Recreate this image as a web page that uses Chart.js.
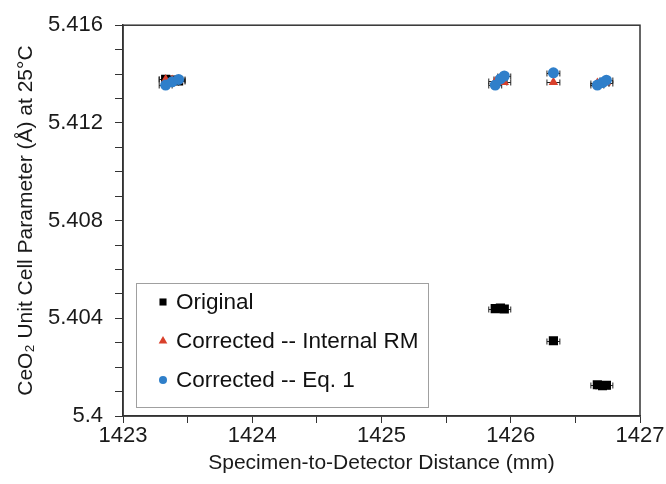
<!DOCTYPE html>
<html>
<head>
<meta charset="utf-8">
<script src="https://cdn.jsdelivr.net/npm/chart.js@4.4.1/dist/chart.umd.min.js"></script>
<style>
  html, body { margin: 0; padding: 0; background: #fff; }
  #wrap { width: 666px; height: 484px; }
</style>
</head>
<body>
<div id="wrap"><canvas id="chart" width="666" height="484"></canvas></div>
<script>
// distances (mm) for each measurement, same for all three series
const distances = [1423.33, 1423.38, 1423.43, 1425.88, 1425.92, 1425.95, 1426.33, 1426.67, 1426.71, 1426.74];
const originalValues = [5.41378, 5.41375, 5.41372, 5.40440, 5.40442, 5.40438, 5.40308, 5.40128, 5.40124, 5.40126];
const internalRMValues = [5.41378, 5.41376, 5.41374, 5.41370, 5.41368, 5.41366, 5.41366, 5.41363, 5.41364, 5.41365];
const eq1Values = [5.41355, 5.41368, 5.41378, 5.41355, 5.41380, 5.41392, 5.41405, 5.41355, 5.41365, 5.41375];
const distanceErr = 0.05;

const xTicks = [1423, 1424, 1425, 1426, 1427];
const yTicks = [5.4, 5.404, 5.408, 5.412, 5.416];

const seriesLabels = ['Original', 'Corrected -- Internal RM', 'Corrected -- Eq. 1'];
const seriesColors = ['#000000', '#d9402b', '#2f7fca'];
const seriesShapes = ['rect', 'triangle', 'circle'];
const seriesRadius = [6.5, 5.5, 5.5];
const legendRadius = [5, 5, 4];

function toPoints(ys) {
    return distances.map((x, i) => ({ x: x, y: ys[i] }));
}

const fontFamily = '"Liberation Sans", Arial, sans-serif';

// horizontal error bars drawn from the scales
const errorBars = {
    id: 'errorBars',
    beforeDatasetsDraw(chart) {
        const ctx = chart.ctx;
        const xs = chart.scales.x, ys = chart.scales.y;
        ctx.save();
        ctx.strokeStyle = '#222';
        ctx.lineWidth = 1;
        chart.data.datasets.forEach(ds => {
            ds.data.forEach(p => {
                const x0 = xs.getPixelForValue(p.x - distanceErr);
                const x1 = xs.getPixelForValue(p.x + distanceErr);
                const y = Math.round(ys.getPixelForValue(p.y)) + 0.5;
                ctx.beginPath();
                ctx.moveTo(x0, y); ctx.lineTo(x1, y);
                ctx.moveTo(x0, y - 3); ctx.lineTo(x0, y + 3);
                ctx.moveTo(x1, y - 3); ctx.lineTo(x1, y + 3);
                ctx.stroke();
            });
        });
        ctx.restore();
    }
};

// plot frame and inset legend
const frameAndLegend = {
    id: 'frameAndLegend',
    afterDraw(chart) {
        const ctx = chart.ctx;
        const a = chart.chartArea;
        ctx.save();
        ctx.strokeStyle = '#333';
        ctx.lineWidth = 1.5;
        ctx.strokeRect(a.left, a.top, a.right - a.left, a.bottom - a.top);

        // legend box
        const bx = 136.5, by = 283.5, bw = 292, bh = 124;
        ctx.fillStyle = '#fff';
        ctx.fillRect(bx, by, bw, bh);
        ctx.strokeStyle = '#a0a0a0';
        ctx.lineWidth = 1;
        ctx.strokeRect(bx, by, bw, bh);

        ctx.font = '22.5px ' + fontFamily;
        ctx.textBaseline = 'middle';
        ctx.textAlign = 'left';
        seriesLabels.forEach((label, i) => {
            const y = 302 + i * 39;
            ctx.fillStyle = seriesColors[i];
            ctx.strokeStyle = seriesColors[i];
            Chart.helpers.drawPoint(ctx, { pointStyle: seriesShapes[i], radius: legendRadius[i], borderWidth: 0 }, 163, y);
            ctx.fillStyle = '#111';
            ctx.fillText(label, 176, y + 1);
        });
        ctx.restore();
    }
};

const datasets = [originalValues, internalRMValues, eq1Values].map((vals, i) => ({
    label: seriesLabels[i],
    data: toPoints(vals),
    pointStyle: seriesShapes[i],
    pointRadius: seriesRadius[i],
    pointHoverRadius: seriesRadius[i],
    backgroundColor: seriesColors[i],
    borderColor: seriesColors[i],
    borderWidth: 0,
    showLine: false,
    order: 3 - i
}));

new Chart(document.getElementById('chart'), {
    type: 'scatter',
    data: { datasets: datasets },
    plugins: [errorBars, frameAndLegend],
    options: {
        responsive: false,
        animation: false,
        layout: { padding: { top: 21, right: 26, left: 0, bottom: 0 } },
        plugins: {
            legend: { display: false },
            tooltip: { enabled: false }
        },
        scales: {
            x: {
                type: 'linear',
                min: 1423,
                max: 1427,
                afterFit: s => { s.height = 68; },
                afterBuildTicks: s => {
                    s.ticks = [];
                    for (let v = 1423; v <= 1427.001; v += 0.5) s.ticks.push({ value: Math.round(v * 10) / 10 });
                },
                grid: { display: true, drawOnChartArea: false, drawTicks: true, tickLength: 7, color: '#333', lineWidth: 1 },
                border: { display: true, color: '#333', width: 1.5 },
                ticks: {
                    color: '#1a1a1a',
                    font: { size: 22, family: fontFamily },
                    padding: 0,
                    maxRotation: 0,
                    autoSkip: false,
                    callback: v => xTicks.includes(v) ? String(v) : ''
                },
                title: {
                    display: true,
                    text: 'Specimen-to-Detector Distance (mm)',
                    color: '#1a1a1a',
                    font: { size: 21, family: fontFamily },
                    padding: { top: 0, bottom: 8 }
                }
            },
            y: {
                type: 'linear',
                min: 5.4,
                max: 5.416,
                afterFit: s => { s.width = 123; },
                afterBuildTicks: s => {
                    s.ticks = [];
                    for (let k = 0; k <= 16; k++) s.ticks.push({ value: Math.round((5.4 + k * 0.001) * 1000) / 1000 });
                },
                grid: { display: true, drawOnChartArea: false, drawTicks: true, tickLength: 8, color: '#333', lineWidth: 1 },
                border: { display: true, color: '#333', width: 1.5 },
                ticks: {
                    color: '#1a1a1a',
                    font: { size: 22, family: fontFamily },
                    padding: 12,
                    autoSkip: false,
                    callback: v => yTicks.some(t => Math.abs(t - v) < 1e-9) ? String(v) : ''
                },
                title: {
                    display: true,
                    text: 'CeO\u2082 Unit Cell Parameter (\u00c5) at 25\u00b0C',
                    color: '#1a1a1a',
                    font: { size: 21, family: fontFamily },
                    padding: { top: 14, bottom: 0 }
                }
            }
        }
    }
});
</script>
</body>
</html>
